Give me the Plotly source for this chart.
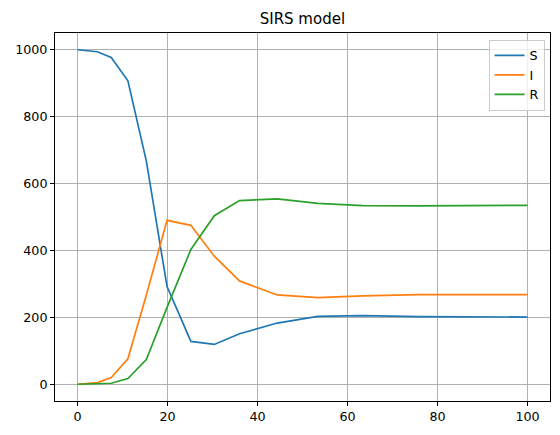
import plotly.graph_objects as go

t = [0, 4.4, 7.5, 11.2, 15.3, 19.9, 25.2, 30.4, 36.0, 44.4, 53.4, 63.4, 75.9, 100]
S = [1000, 994, 977, 907, 667, 292, 128, 119, 151, 183, 203, 205, 202, 201]
I = [0, 5, 20, 76, 267, 490, 475, 383, 309, 267, 259, 264, 268, 268]
R = [0, 1, 3, 17, 74, 230, 403, 504, 549, 554, 541, 534, 533, 535]

series = [("S", S, "#1f77b4"), ("I", I, "#ff7f0e"), ("R", R, "#2ca02c")]

fig = go.Figure()
for name, vals, col in series:
    fig.add_trace(go.Scatter(x=t, y=vals, mode="lines", name=name,
                             line=dict(color=col, width=1.7)))

axis_common = dict(showline=True, linecolor="black", linewidth=1, mirror=True,
                   ticks="outside", ticklen=4, tickcolor="black",
                   showgrid=True, gridcolor="#b0b0b0", gridwidth=1,
                   zeroline=False, tickfont=dict(family="DejaVu Sans", size=12.7, color="black"))

fig.update_layout(
    width=560, height=435,
    margin=dict(l=55, r=10, t=33, b=34),
    paper_bgcolor="white", plot_bgcolor="white",
    title=dict(text="SIRS model", x=0.54, xanchor="center", y=0.958, yanchor="middle",
               font=dict(family="DejaVu Sans", size=15, color="black")),
    xaxis=dict(range=[-5, 105], tickvals=[0, 20, 40, 60, 80, 100], **axis_common),
    yaxis=dict(range=[-50, 1050], tickvals=[0, 200, 400, 600, 800, 1000], **axis_common),
    legend=dict(x=0.989, y=0.982, xanchor="right", yanchor="top",
                bgcolor="rgba(255,255,255,0.8)", bordercolor="#cccccc", borderwidth=1,
                font=dict(family="DejaVu Sans", size=12.7, color="black"),
                itemwidth=30, tracegroupgap=0),
    showlegend=True,
)

fig.write_html("out.html")
